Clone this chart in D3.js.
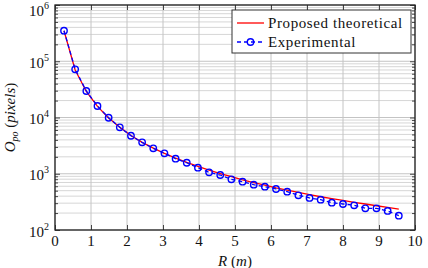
<!DOCTYPE html>
<meta charset="utf-8">
<script src="https://d3js.org/d3.v7.min.js"></script>
<style>
  body { margin: 0; background: #fff; }
</style>
<div id="chart"></div>
<script>

// data
var distance = [0.25, 0.56, 0.87, 1.18, 1.49, 1.80, 2.11, 2.42, 2.73, 3.04, 3.35,
                3.66, 3.97, 4.28, 4.59, 4.90, 5.21, 5.52, 5.83, 6.14, 6.45,
                6.76, 7.07, 7.38, 7.69, 8.00, 8.31, 8.62, 8.93, 9.24, 9.55];
var experimental = [349000, 72000, 29600, 16000, 9900, 6700, 4740, 3620, 2830, 2310, 1850,
                    1570, 1280, 1060, 950, 796, 722, 640, 589, 536, 480,
                    414, 371, 346, 306, 290, 275, 243, 243, 218, 180];
var theoretical = [349000, 70000, 29000, 15800, 9800, 6700, 4800, 3620, 2860, 2300, 1900,
                   1590, 1350, 1160, 1010, 885, 780, 695, 625, 560, 510,
                   465, 425, 390, 360, 335, 310, 290, 270, 252, 236];
var xTicks = [0, 1, 2, 3, 4, 5, 6, 7, 8, 9, 10];
var yDecades = [1e2, 1e3, 1e4, 1e5, 1e6];
var seriesNames = ["Proposed theoretical", "Experimental"];

var serif = "'Liberation Serif'";

var margin = {top: 5, right: 13, bottom: 38, left: 55},
    width = 428 - margin.left - margin.right,
    height = 268 - margin.top - margin.bottom;

var svg = d3.select("#chart")
  .append("svg")
    .attr("width", width + margin.left + margin.right)
    .attr("height", height + margin.top + margin.bottom)
    .style("font-family", serif)
  .append("g")
    .attr("transform", "translate(" + margin.left + "," + margin.top + ")");

var x = d3.scaleLinear().domain([0, 10]).range([0, width]);
var y = d3.scaleLog().domain([1e2, 1e6]).range([height, 0]);

var allY = y.ticks();
var isMajor = function(v) { return Math.abs(Math.log10(v) - Math.round(Math.log10(v))) < 1e-9; };
var minorY = allY.filter(function(v) { return !isMajor(v); });

// grid
svg.append("g")
  .selectAll("line")
  .data(minorY)
  .enter().append("line")
    .attr("x1", 0).attr("x2", width)
    .attr("y1", function(d) { return y(d); })
    .attr("y2", function(d) { return y(d); })
    .style("stroke", "#d6d6d6")
    .style("stroke-width", 1);

svg.append("g")
  .selectAll("line")
  .data(yDecades)
  .enter().append("line")
    .attr("x1", 0).attr("x2", width)
    .attr("y1", function(d) { return y(d); })
    .attr("y2", function(d) { return y(d); })
    .style("stroke", "#c4c4c4")
    .style("stroke-width", 1);

svg.append("g")
  .selectAll("line")
  .data(xTicks)
  .enter().append("line")
    .attr("x1", function(d) { return x(d); })
    .attr("x2", function(d) { return x(d); })
    .attr("y1", 0).attr("y2", height)
    .style("stroke", "#c4c4c4")
    .style("stroke-width", 1);

// inward ticks on all four sides
function ticks(axis) {
  return function(g) {
    g.call(axis);
    g.select(".domain").remove();
    g.selectAll("line").style("stroke", "#444");
  };
}
svg.append("g").call(ticks(d3.axisLeft(y).tickValues(yDecades).tickSize(-5).tickFormat("")));
svg.append("g").call(ticks(d3.axisLeft(y).tickValues(minorY).tickSize(-3).tickFormat("")));
svg.append("g").attr("transform", "translate(" + width + ",0)")
  .call(ticks(d3.axisRight(y).tickValues(yDecades).tickSize(-5).tickFormat("")));
svg.append("g").attr("transform", "translate(" + width + ",0)")
  .call(ticks(d3.axisRight(y).tickValues(minorY).tickSize(-3).tickFormat("")));
svg.append("g").attr("transform", "translate(0," + height + ")")
  .call(ticks(d3.axisBottom(x).tickValues(xTicks).tickSize(-5).tickFormat("")));
svg.append("g")
  .call(ticks(d3.axisTop(x).tickValues(xTicks).tickSize(-5).tickFormat("")));

// frame
svg.append("rect")
  .attr("width", width).attr("height", height)
  .style("fill", "none").style("stroke", "#222").style("stroke-width", 1.3);

// tick labels
svg.append("g")
  .selectAll("text")
  .data(xTicks)
  .enter().append("text")
    .attr("x", function(d) { return x(d); })
    .attr("y", height + 16)
    .attr("text-anchor", "middle")
    .style("font-family", serif)
    .style("font-size", "15px")
    .style("fill", "#111")
    .text(function(d) { return d; });

var yl = svg.append("g")
  .selectAll("text")
  .data(yDecades)
  .enter().append("text")
    .attr("x", -6)
    .attr("y", function(d) { return Math.max(y(d) + 6.5, 11); })
    .attr("text-anchor", "end")
    .style("font-family", serif)
    .style("font-size", "15px")
    .style("fill", "#111");
yl.append("tspan").text("10");
yl.append("tspan")
  .attr("dy", -7)
  .style("font-size", "10px")
  .text(function(d) { return Math.round(Math.log10(d)); });

// lines
var line = function(vals) {
  return d3.line()
    .x(function(d, i) { return x(distance[i]); })
    .y(function(d) { return y(d); })(vals);
};

svg.append("path")
  .attr("d", line(theoretical))
  .style("fill", "none")
  .style("stroke", "#ff0000")
  .style("stroke-width", 1.3);

svg.append("path")
  .attr("d", line(experimental))
  .style("fill", "none")
  .style("stroke", "#0000ff")
  .style("stroke-width", 1.3)
  .style("stroke-dasharray", "4,3");

svg.append("g")
  .selectAll("circle")
  .data(experimental)
  .enter().append("circle")
    .attr("cx", function(d, i) { return x(distance[i]); })
    .attr("cy", function(d) { return y(d); })
    .attr("r", 3.2)
    .style("fill", "none")
    .style("stroke", "#0000ff")
    .style("stroke-width", 1.4);

// legend
var lg = svg.append("g").attr("transform", "translate(177,5)");
lg.append("rect")
  .attr("width", 179).attr("height", 43)
  .style("fill", "#fff").style("stroke", "#333").style("stroke-width", 1);
lg.append("line")
  .attr("x1", 5).attr("x2", 32).attr("y1", 13).attr("y2", 13)
  .style("stroke", "#ff0000").style("stroke-width", 1.3);
lg.append("line")
  .attr("x1", 5).attr("x2", 32).attr("y1", 32).attr("y2", 32)
  .style("stroke", "#0000ff").style("stroke-width", 1.3)
  .style("stroke-dasharray", "4,3");
lg.append("circle")
  .attr("cx", 18.5).attr("cy", 32).attr("r", 3.2)
  .style("fill", "none").style("stroke", "#0000ff").style("stroke-width", 1.4);
lg.selectAll("text.lab")
  .data(seriesNames)
  .enter().append("text")
    .attr("x", 36)
    .attr("y", function(d, i) { return 17.5 + i * 19; })
    .style("font-family", serif)
    .style("font-size", "15px")
    .style("letter-spacing", "0.6px")
    .style("fill", "#111")
    .text(function(d) { return d; });

// axis titles
svg.append("text")
  .attr("x", width / 2)
  .attr("y", height + 36)
  .attr("text-anchor", "middle")
  .style("font-family", serif)
  .style("font-size", "15px")
  .style("fill", "#111")
  .html('<tspan font-style="italic">R</tspan> (<tspan font-style="italic">m</tspan>)');

svg.append("text")
  .attr("transform", "translate(-40," + (height / 2) + ") rotate(-90)")
  .attr("text-anchor", "middle")
  .style("font-family", serif)
  .style("font-size", "15px")
  .style("fill", "#111")
  .html('<tspan font-style="italic">O</tspan><tspan font-style="italic" font-size="10px" dy="3">po</tspan><tspan dy="-3"> (</tspan><tspan font-style="italic">pixels</tspan>)');

</script>
